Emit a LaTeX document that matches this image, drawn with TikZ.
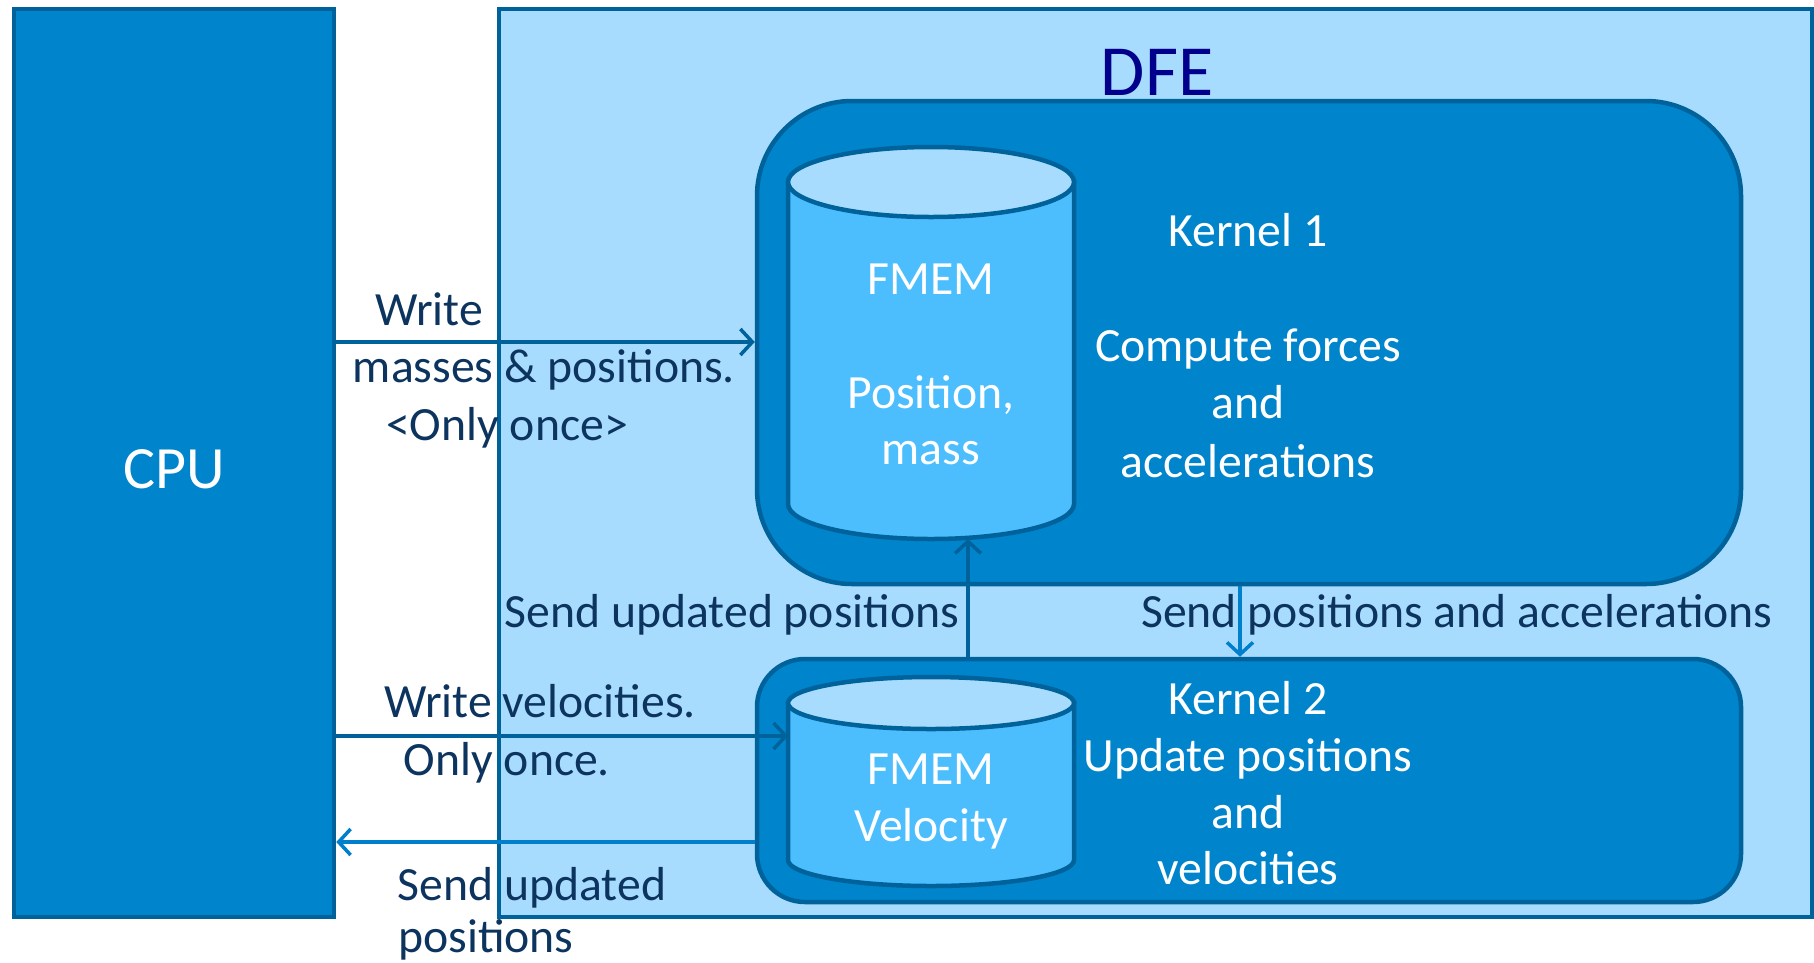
\documentclass[tikz,border=0pt]{standalone}
\usepackage{fontspec}
\setmainfont{Carlito}
\usetikzlibrary{arrows.meta}
\definecolor{boxblue}{RGB}{0,132,204}
\definecolor{edgeblue}{RGB}{0,98,155}
\definecolor{paleblue}{RGB}{168,220,254}
\definecolor{cylblue}{RGB}{77,190,253}
\definecolor{labelnavy}{RGB}{12,52,94}
\definecolor{titlenavy}{RGB}{0,0,140}
\definecolor{flowblue}{RGB}{0,128,204}
\begin{document}
\begin{tikzpicture}[x=1pt,y=-1pt,
  block/.style={draw=edgeblue, line width=4.5pt, inner sep=0pt},
  cylbody/.style={fill=cylblue, draw=edgeblue, line width=4.5pt},
  cyltop/.style={fill=paleblue, draw=edgeblue, line width=4.5pt},
  lbl/.style={text=labelnavy, font=\fontsize{47.7}{57}\selectfont, inner sep=0pt, anchor=base},
  wlbl/.style={lbl, text=white},
  darkflow/.style={draw=edgeblue, line width=3.5pt, -{Straight Barb[length=12pt,width=26pt]}},
  lightflow/.style={darkflow, draw=flowblue},
]
\useasboundingbox (0,0) rectangle (1814,962);

% host and accelerator boxes
\node[block, fill=boxblue, minimum width=320pt, minimum height=908pt] (cpu) at (174,463) {};
\node[block, fill=paleblue, minimum width=1313pt, minimum height=908pt] (dfe) at (1155.5,463) {};
\node[wlbl, font=\fontsize{60}{70}\selectfont] (cpulbl) at (174,488) {CPU};
\node[lbl, text=titlenavy, font=\fontsize{72}{80}\selectfont] (dfelbl) at (1157,95) {DFE};

% kernels
\node[block, fill=boxblue, rounded corners=95pt, minimum width=984pt, minimum height=483pt] (k1) at (1249,342.5) {};
\node[block, fill=boxblue, rounded corners=48pt, minimum width=984pt, minimum height=243pt] (k2) at (1249,780.5) {};

% memory 1 (position, mass)
\filldraw[cylbody] (788,182) -- (788,504) arc[start angle=180, end angle=0, x radius=143, y radius=35] -- (1074,182) -- cycle;
\filldraw[cyltop] (931,182) ellipse[x radius=143, y radius=35];
\node[minimum width=286pt, minimum height=392pt, inner sep=0pt, outer sep=0pt] (mem1) at (931,343) {};

% memory 2 (velocity)
\filldraw[cylbody] (788,703) -- (788,860) arc[start angle=180, end angle=0, x radius=143, y radius=26] -- (1074,703) -- cycle;
\filldraw[cyltop] (931,703) ellipse[x radius=143, y radius=26];
\node[minimum width=286pt, minimum height=209pt, inner sep=0pt, outer sep=0pt] (mem2) at (931,781.5) {};

% texts inside the DFE
\node[wlbl] (m1a) at (931,294) {FMEM};
\node[wlbl] (m1b) at (931,408) {Position,};
\node[wlbl] (m1c) at (931,464) {mass};
\node[wlbl] (k1a) at (1248,246) {Kernel 1};
\node[wlbl] (k1b) at (1248,361) {Compute forces};
\node[wlbl] (k1c) at (1248,418) {and};
\node[wlbl] (k1d) at (1248,477) {accelerations};
\node[wlbl] (m2a) at (931,784) {FMEM};
\node[wlbl] (m2b) at (931,841) {Velocity};
\node[wlbl] (k2a) at (1248,714) {Kernel 2};
\node[wlbl] (k2b) at (1248,771) {Update positions};
\node[wlbl] (k2c) at (1248,828) {and};
\node[wlbl] (k2d) at (1248,884) {velocities};

% connector labels
\node[lbl] (w1a) at (429,325) {Write};
\node[lbl] (w1b) at (544,382) {masses \& positions.};
\node[lbl] (w1c) at (507,440) {<Only once>};
\node[lbl] (w2a) at (540,717) {Write velocities.};
\node[lbl] (w2b) at (507,775) {Only once.};
\node[lbl] (s1a) at (532,900) {Send updated};
\node[lbl] (s1b) at (486,952) {positions};
\node[lbl] (s2) at (732,627) {Send updated positions};
\node[lbl] (s3) at (1457,627) {Send positions and accelerations};

% connectors
\draw[darkflow] (cpu.east |- 0,342) -- (k1.west |- 0,342);
\draw[darkflow] (cpu.east |- 0,736) -- (mem2.west |- 0,736);
\draw[lightflow] (k2.west |- 0,842) -- (cpu.east |- 0,842);
\draw[darkflow] (k2.north -| 968,0) -- (mem1.south -| 968,0);
\draw[lightflow] (k1.south -| 1240,0) -- (k2.north -| 1240,0);
\end{tikzpicture}
\end{document}
